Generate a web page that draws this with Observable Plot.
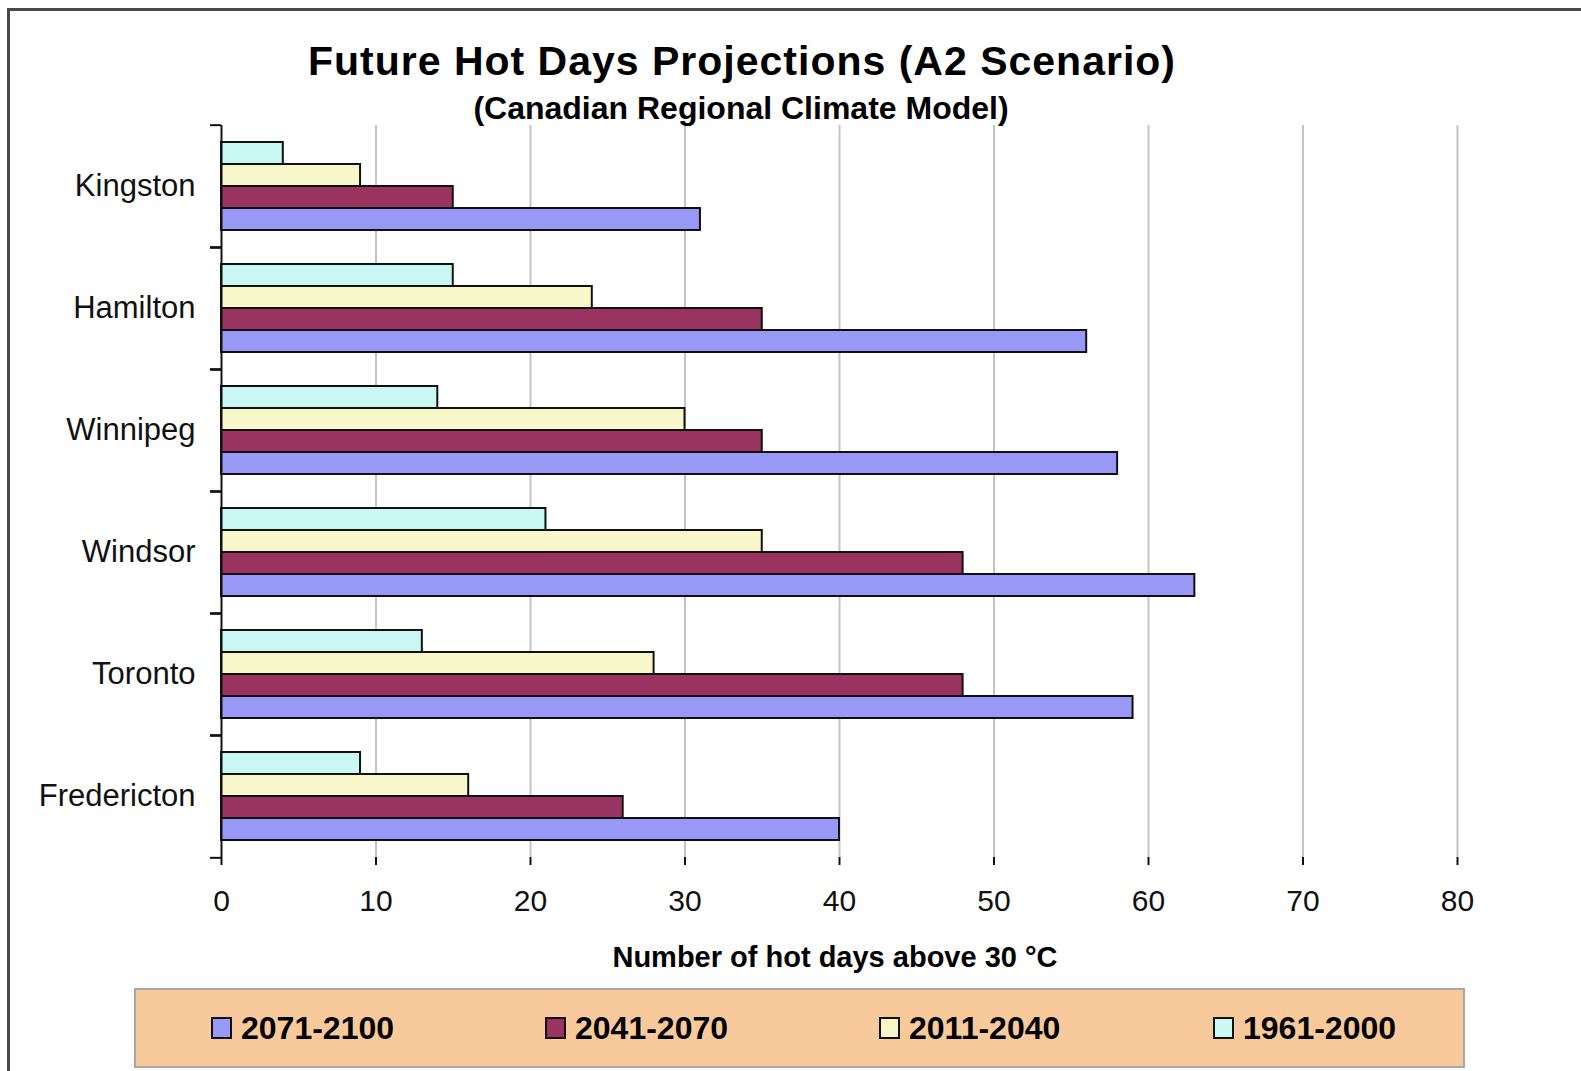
<!DOCTYPE html>
<html>
<head>
<meta charset="utf-8">
<script src="https://cdn.jsdelivr.net/npm/d3@7"></script>
<script src="https://cdn.jsdelivr.net/npm/@observablehq/plot@0.6"></script>
<style>
  body { margin: 0; background: #fff; font-family: "Liberation Sans", Arial, sans-serif; }
  #wrap { position: relative; width: 1581px; height: 1071px; overflow: hidden; background: #fff; }
  #chart { position: absolute; left: 0; top: 0; }
  #border { position: absolute; left: 7px; top: 8px; width: 1700px; height: 1200px; border: 3px solid #4a4a4a; box-sizing: border-box; pointer-events: none; }
  .t { position: absolute; text-align: center; line-height: 1; font-weight: bold; color: #000; white-space: nowrap; }
  #title { left: 0; width: 1484px; top: 41px; font-size: 41px; letter-spacing: 1px; }
  #subtitle { left: 0; width: 1482px; top: 92px; font-size: 32px; }
  #xtitle { left: 135px; width: 1400px; top: 943px; font-size: 29px; }
  #legend { position: absolute; left: 134px; top: 988px; width: 1331px; height: 80px; background: #F8C99A; border: 2px solid #A8A8A8; box-sizing: border-box; }
  .item { position: absolute; top: 0; height: 100%; display: flex; align-items: center; font-weight: bold; font-size: 32px; color: #000; white-space: nowrap; }
  .sw { width: 17px; height: 18px; border: 2px solid #111; margin-right: 9px; }
</style>
</head>
<body>
<div id="wrap">
  <div id="chart"></div>
  <div class="t" id="title">Future Hot Days Projections (A2 Scenario)</div>
  <div class="t" id="subtitle">(Canadian Regional Climate Model)</div>
  <div class="t" id="xtitle">Number of hot days above 30 °C</div>
  <div id="legend"></div>
  <div id="border"></div>
</div>
<script>
const cities = ["Kingston", "Hamilton", "Winnipeg", "Windsor", "Toronto", "Fredericton"];
const periods = ["1961-2000", "2011-2040", "2041-2070", "2071-2100"];
const days1961 = [4, 15, 14, 21, 13, 9];
const days2011 = [9, 24, 30, 35, 28, 16];
const days2041 = [15, 35, 35, 48, 48, 26];
const days2071 = [31, 56, 58, 63, 59, 40];
const periodColors = ["#C8F7F4", "#F8F7C9", "#993360", "#9898F6"];
const xTicks = [0, 10, 20, 30, 40, 50, 60, 70, 80];
const legendOrder = ["2071-2100", "2041-2070", "2011-2040", "1961-2000"];

const series = [days1961, days2011, days2041, days2071];
const data = cities.flatMap((c, i) => periods.map((p, j) => ({city: c, period: p, days: series[j][i]})));

const W = 1581, H = 1071, mt = 123, mb = 212, ml = 221, mr = 124;
const half = (H - mt - mb) / cities.length / 2;

const chart = Plot.plot({
  width: W, height: H,
  marginTop: mt, marginBottom: mb, marginLeft: ml, marginRight: mr,
  style: {fontFamily: '"Liberation Sans", Arial, sans-serif', background: "transparent", color: "#111", overflow: "visible"},
  x: {domain: [0, 80], label: null},
  y: {domain: periods, paddingInner: 0, paddingOuter: 0.77, axis: null, label: null},
  fy: {domain: cities, padding: 0, label: null},
  color: {domain: periods, range: periodColors},
  marks: [
    Plot.gridX(xTicks.slice(1), {stroke: "#c4c4c4", strokeOpacity: 1, strokeWidth: 2}),
    Plot.barX(data, {x: "days", y: "period", fy: "city", fill: "period", stroke: "#111", strokeWidth: 2}),
    Plot.ruleX([0], {stroke: "#111", strokeWidth: 2}),
    Plot.axisFy({anchor: "left", tickSize: 0, tickPadding: 26, fontSize: 31, label: null}),
    Plot.axisFy({anchor: "left", tickSize: 11, tickFormat: () => "", dy: -half, label: null, stroke: "#111", strokeWidth: 2}),
    Plot.axisFy({anchor: "left", tickSize: 11, tickFormat: () => "", dy: half, label: null, stroke: "#111", strokeWidth: 2}),
    Plot.axisX(xTicks, {anchor: "bottom", tickSize: 8, tickPadding: 24, fontSize: 30, line: true, stroke: "#111", strokeWidth: 2, label: null})
  ]
});
document.getElementById("chart").appendChild(chart);

const legend = document.getElementById("legend");
const colorOf = Object.fromEntries(periods.map((p, i) => [p, periodColors[i]]));
legendOrder.forEach((p, i) => {
  const item = document.createElement("div");
  item.className = "item";
  item.style.left = (75 + i * 334) + "px";
  const sw = document.createElement("div");
  sw.className = "sw";
  sw.style.background = colorOf[p];
  const tx = document.createElement("span");
  tx.textContent = p;
  item.appendChild(sw);
  item.appendChild(tx);
  legend.appendChild(item);
});
</script>
</body>
</html>
